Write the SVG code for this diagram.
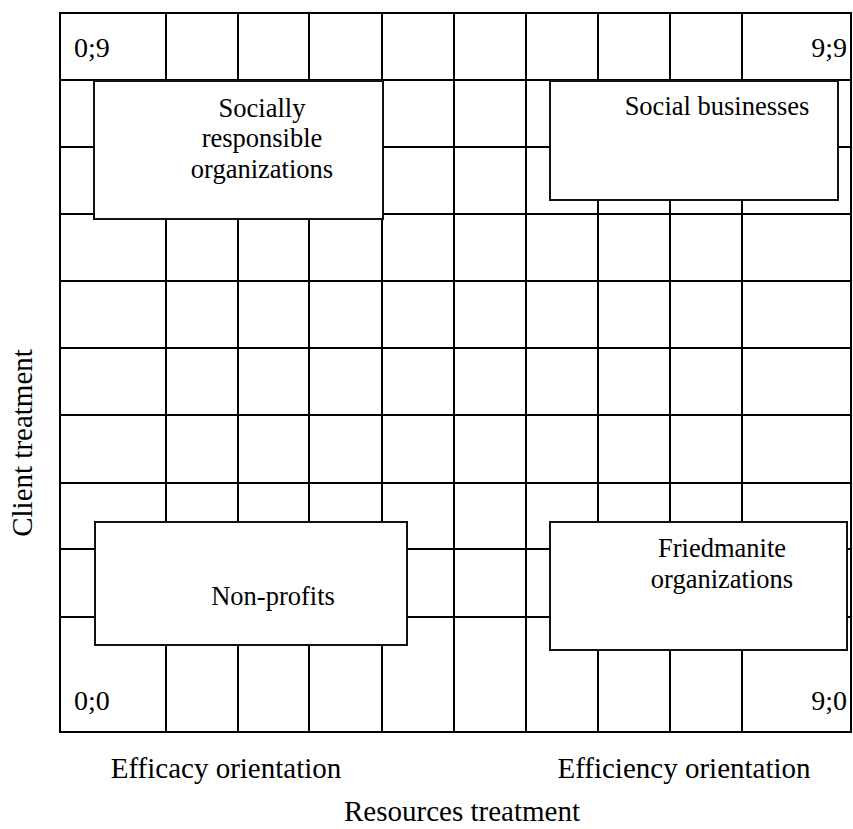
<svg xmlns="http://www.w3.org/2000/svg" width="853" height="829" viewBox="0 0 853 829">
  <style>
    .grid { stroke: #000; stroke-width: 2; fill: none; }
    .box { fill: #fff; stroke: #111; stroke-width: 2; }
    text { font-family: "Times New Roman", Times, "Liberation Serif", "Noto Serif", "DejaVu Serif", FreeSerif, serif; fill: #000; }
    .bt { font-size: 26.5px; text-anchor: middle; }
    .corner { font-size: 28px; }
    .axis { font-size: 29px; text-anchor: middle; }
  </style>

  <rect width="853" height="829" fill="#fff"/>

  <!-- 9x9 grid -->
  <g id="grid" class="grid">
    <rect x="60" y="13" width="791" height="719"/>
    <path d="M166 13V732 M238 13V732 M309 13V732 M382 13V732 M454 13V732 M526 13V732 M598 13V732 M670 13V732 M742 13V732"/>
    <path d="M60 80H851 M60 147H851 M60 214H851 M60 281H851 M60 348H851 M60 415H851 M60 483H851 M60 549H851 M60 617H851"/>
  </g>

  <!-- corner coordinates -->
  <g id="corners" class="corner">
    <text x="74" y="57">0;9</text>
    <text x="847" y="57" text-anchor="end">9;9</text>
    <text x="74" y="710">0;0</text>
    <text x="847" y="710" text-anchor="end">9;0</text>
  </g>

  <g id="connectors"/>

  <g id="socially-responsible">
    <rect class="box" x="94" y="81" width="289" height="138"/>
    <text class="bt" x="262" y="117">Socially</text>
    <text class="bt" x="262" y="147">responsible</text>
    <text class="bt" x="262" y="178">organizations</text>
  </g>

  <g id="social-businesses">
    <rect class="box" x="550" y="81" width="288" height="119"/>
    <text class="bt" x="717" y="115">Social businesses</text>
  </g>

  <g id="non-profits">
    <rect class="box" x="95" y="522" width="312" height="123"/>
    <text class="bt" x="273" y="605">Non-profits</text>
  </g>

  <g id="friedmanite">
    <rect class="box" x="550" y="522" width="297" height="128"/>
    <text class="bt" x="722" y="557">Friedmanite</text>
    <text class="bt" x="722" y="588">organizations</text>
  </g>

  <!-- axis labels -->
  <g id="axes" class="axis">
    <text x="226" y="778">Efficacy orientation</text>
    <text x="684" y="778">Efficiency orientation</text>
    <text x="462" y="821">Resources treatment</text>
    <text transform="translate(32 443) rotate(-90)">Client treatment</text>
  </g>
</svg>
